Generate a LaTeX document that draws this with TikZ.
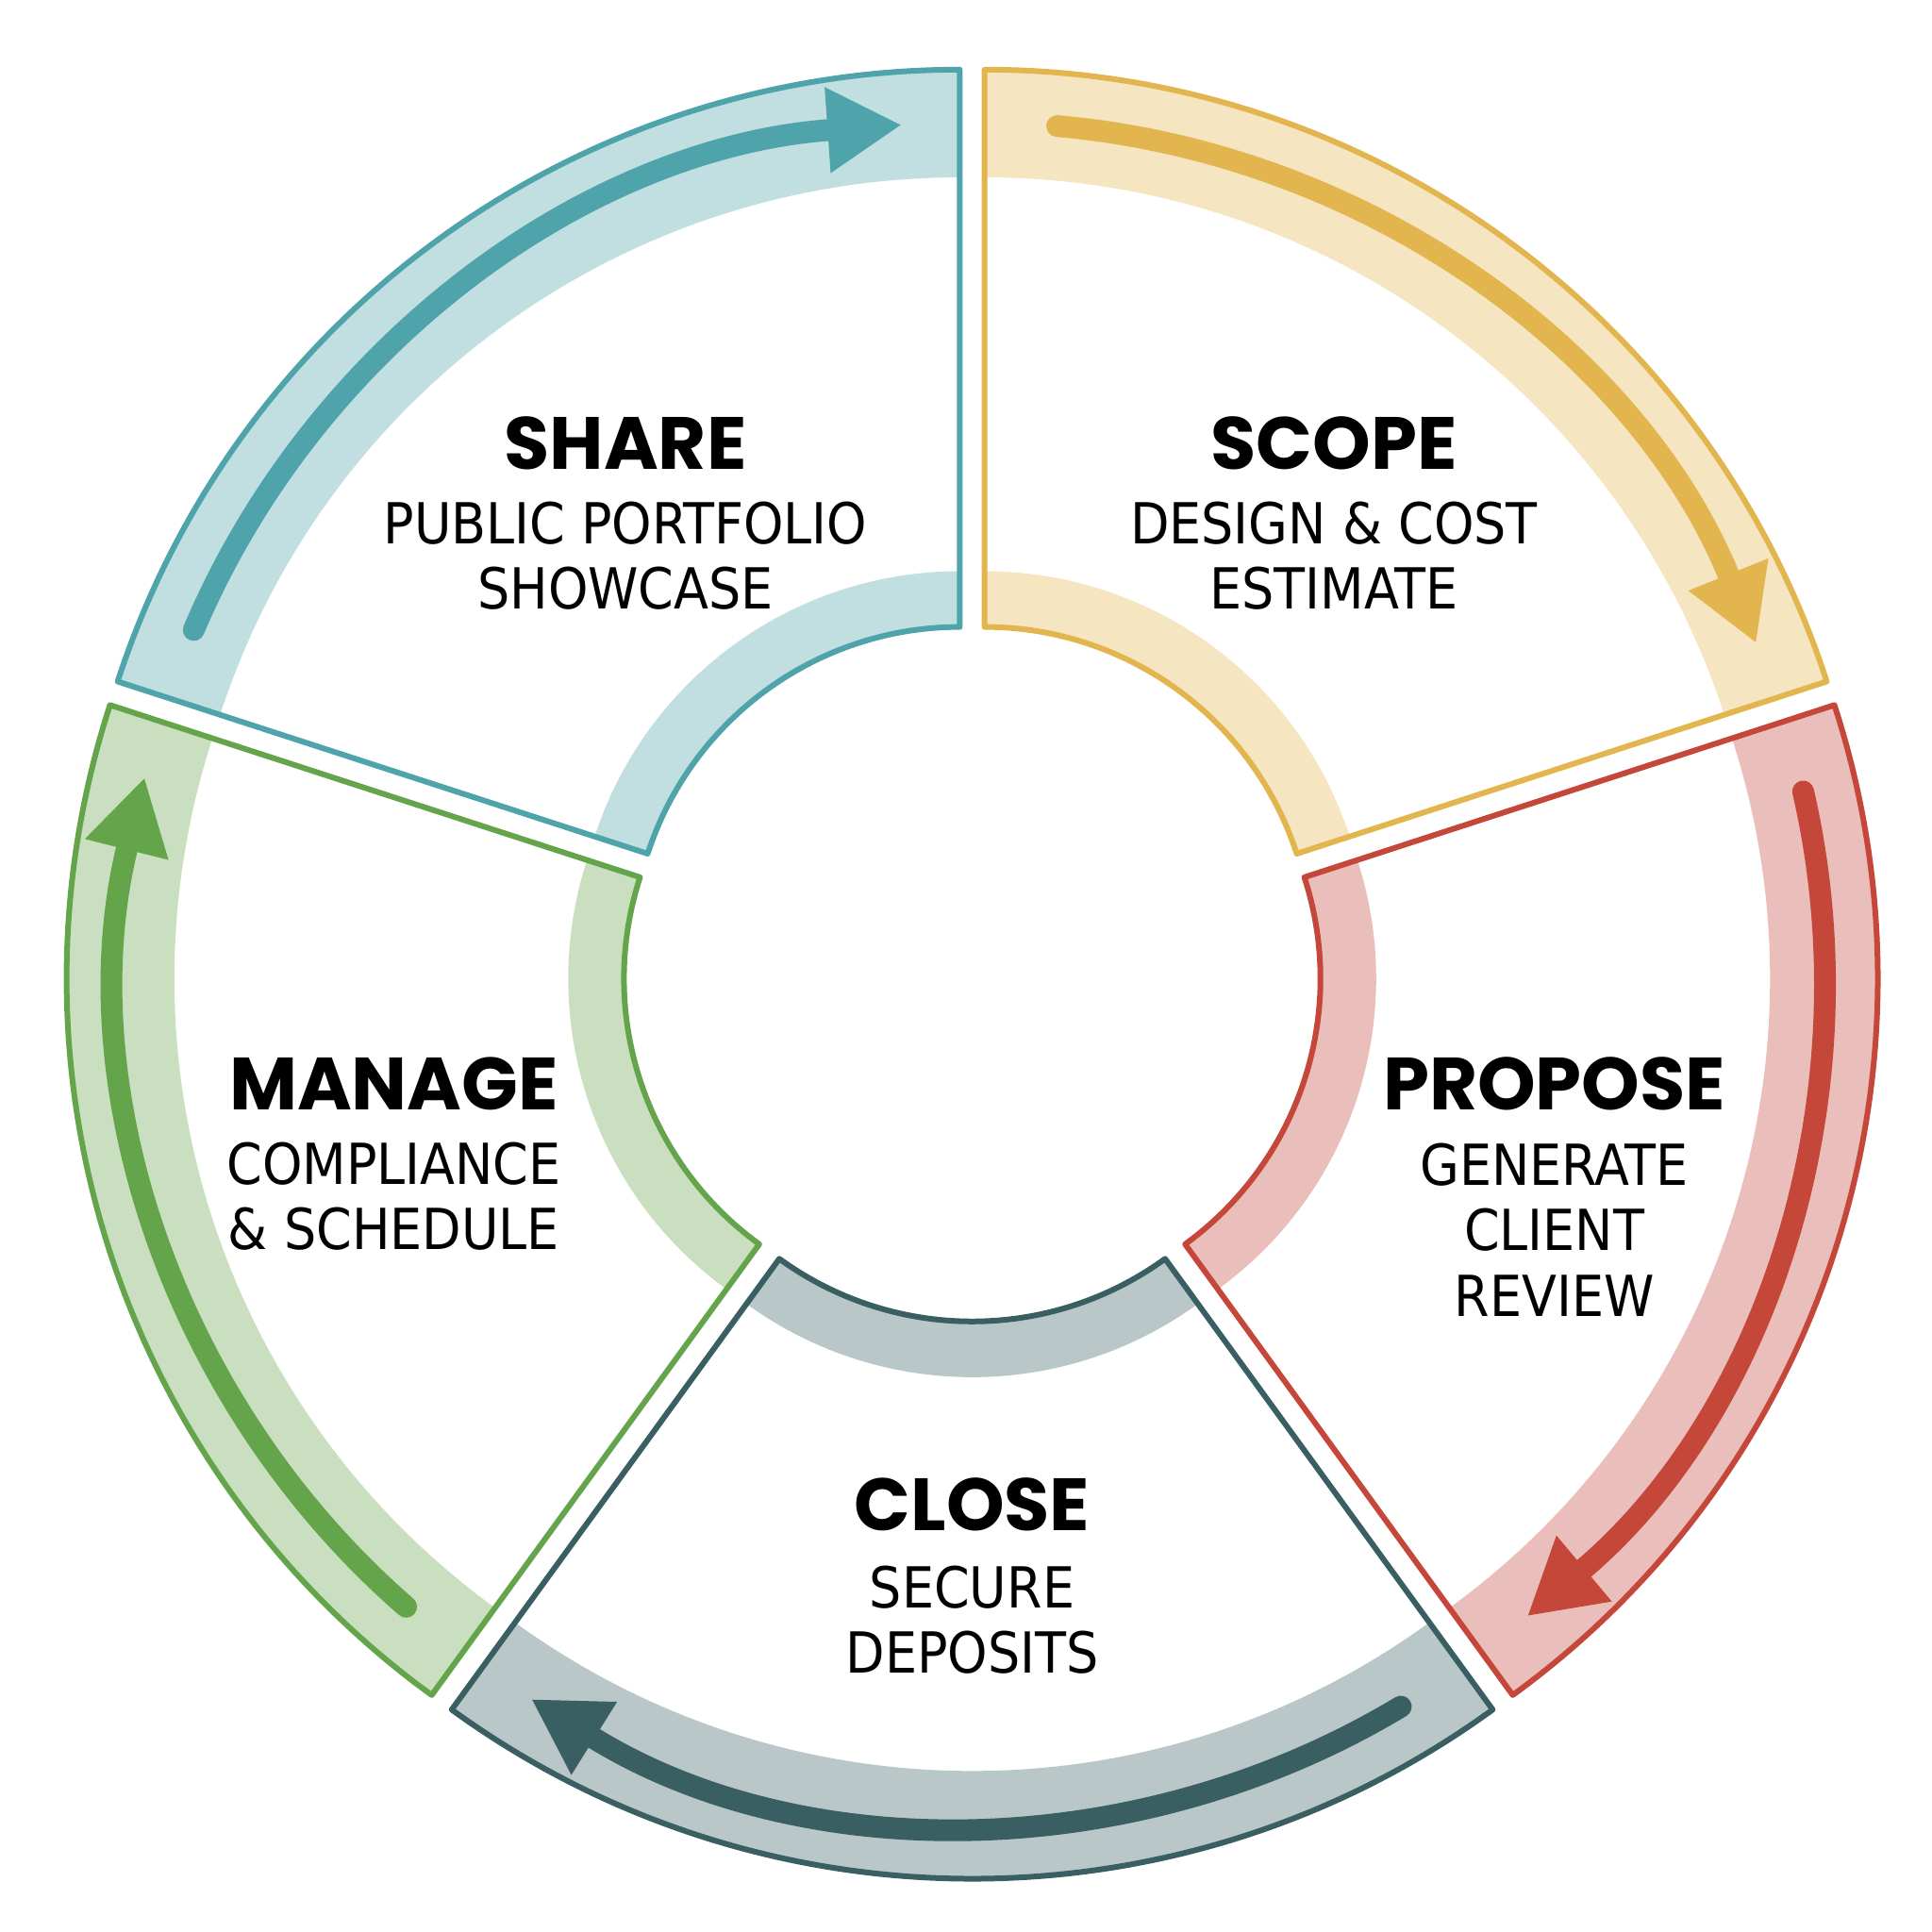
\documentclass[tikz,border=0pt]{standalone}
\usepackage{fontspec}
\setmainfont{Poppins}
\newfontfamily\condfont{DejaVu Sans Condensed}
\usetikzlibrary{arrows.meta}
\definecolor{shareC}{HTML}{4FA3AA}
\definecolor{scopeC}{HTML}{E2B54E}
\definecolor{propC}{HTML}{C4473A}
\definecolor{closeC}{HTML}{3A5F63}
\definecolor{manC}{HTML}{64A54C}
\begin{document}
\begin{tikzpicture}
	\tikzset{title/.style = {font=\fontsize{17}{20}\selectfont\bfseries},
		sub/.style = {font=\condfont\fontsize{13}{15}\selectfont, align=center}}
	\useasboundingbox (-7.85,-7.75) rectangle (7.75,7.85);
		\foreach \a/\c in {90/shareC,18/scopeC,-54/propC,-126/closeC,162/manC}{
			\begin{scope}[shift={({\a+36}:0.17)}]
				\fill[\c!35] (\a:6.28) arc[start angle=\a,end angle=\a+72,radius=6.28] -- (\a+72:7.15) arc[start angle=\a+72,end angle=\a,radius=7.15] -- cycle;
				\fill[\c!35] (\a:2.65) arc[start angle=\a,end angle=\a+72,radius=2.65] -- (\a+72:3.1) arc[start angle=\a+72,end angle=\a,radius=3.1] -- cycle;
				\draw[\c, line width=1.3pt, line join=round] (\a:2.65) arc[start angle=\a,end angle=\a+72,radius=2.65] -- (\a+72:7.15) arc[start angle=\a+72,end angle=\a,radius=7.15] -- cycle;
				\draw[\c, line width=5pt, line cap=round, -{Triangle[length=0.6cm,width=0.65cm]}] (\a+67:6.72) arc[start angle=\a+67,end angle=\a+4,radius=6.72];
			\end{scope}
		}
		\node[title] (share) at (-2.8,4.27) {SHARE};
		\node[sub] (shareT) at (-2.8,3.36) {PUBLIC PORTFOLIO\\SHOWCASE};
		\node[title] (scope) at (2.92,4.27) {SCOPE};
		\node[sub] (scopeT) at (2.92,3.36) {DESIGN \& COST\\ESTIMATE};
		\node[title] (propose) at (4.7,-0.9) {PROPOSE};
		\node[sub] (proposeT) at (4.7,-2.08) {GENERATE\\CLIENT\\REVIEW};
		\node[title] (close) at (0,-4.3) {CLOSE};
		\node[sub] (closeT) at (0,-5.23) {SECURE\\DEPOSITS};
		\node[title] (manage) at (-4.67,-0.9) {MANAGE};
		\node[sub] (manageT) at (-4.67,-1.81) {COMPLIANCE\\\& SCHEDULE};
\end{tikzpicture}
\end{document}
